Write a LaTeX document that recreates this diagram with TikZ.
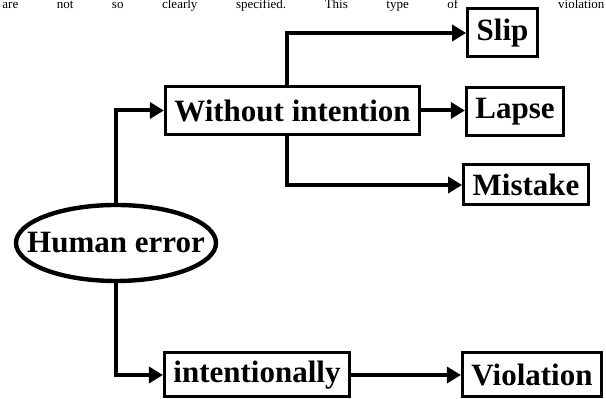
\documentclass[tikz,border=0pt]{standalone}
\usepackage{fontspec}
\setmainfont{Liberation Serif}
\usetikzlibrary{arrows.meta, shapes.geometric}

\begin{document}
\begin{tikzpicture}[
    x=0.5pt, y=-0.5pt,
    >={Triangle[length=7pt, width=8pt]},
    box/.style={
        draw=black, line width=1.5pt, fill=white,
        minimum height=24pt, inner xsep=4.5pt, inner ysep=2pt,
        font=\fontsize{15.5}{18}\selectfont\bfseries
    },
    rootbox/.style={
        ellipse, draw=black, line width=2.2pt, fill=white,
        minimum width=100pt, minimum height=38pt, inner sep=0pt,
        font=\fontsize{15.5}{18}\selectfont\bfseries
    },
    arr/.style={->, line width=2pt, black},
]
\useasboundingbox (0,0) rectangle (606,399);

%% text of the page above
\node[anchor=base west, inner sep=0pt, font=\fontsize{6.5}{8}\selectfont] (above) at (2, 9)
    {\hbox to 301pt{are\hfill not\hfill so\hfill clearly\hfill specified.\hfill This\hfill type\hfill of\hskip 50pt violation}};

%% root
\node[rootbox] (hum) at (116, 243) {\makebox[0pt]{Human error}};

%% first level
\node[box] (wo) at (292.5, 110.5) {Without intention};
\node[box, minimum height=22pt] (int) at (257, 375) {intentionally};

\draw[arr] (hum.north) |- (wo.west);
\draw[arr] (hum.south) |- (int.west);

%% kinds of error
\node[box] (slip) at (502.5, 33) {Slip};
\node[box] (lapse) at (515, 112) {Lapse};
\node[box, minimum height=20pt] (mis) at (526, 185) {Mistake};
\node[box, minimum height=22pt] (viol) at (532, 375) {Violation};

\draw[arr] ([xshift=-3pt]wo.north) |- (slip.west);
\draw[arr] (wo.east) -- (lapse.west |- wo.east);
\draw[arr] ([xshift=-3pt]wo.south) |- (mis.west);
\draw[arr] (int) -- (viol);

\end{tikzpicture}
\end{document}
